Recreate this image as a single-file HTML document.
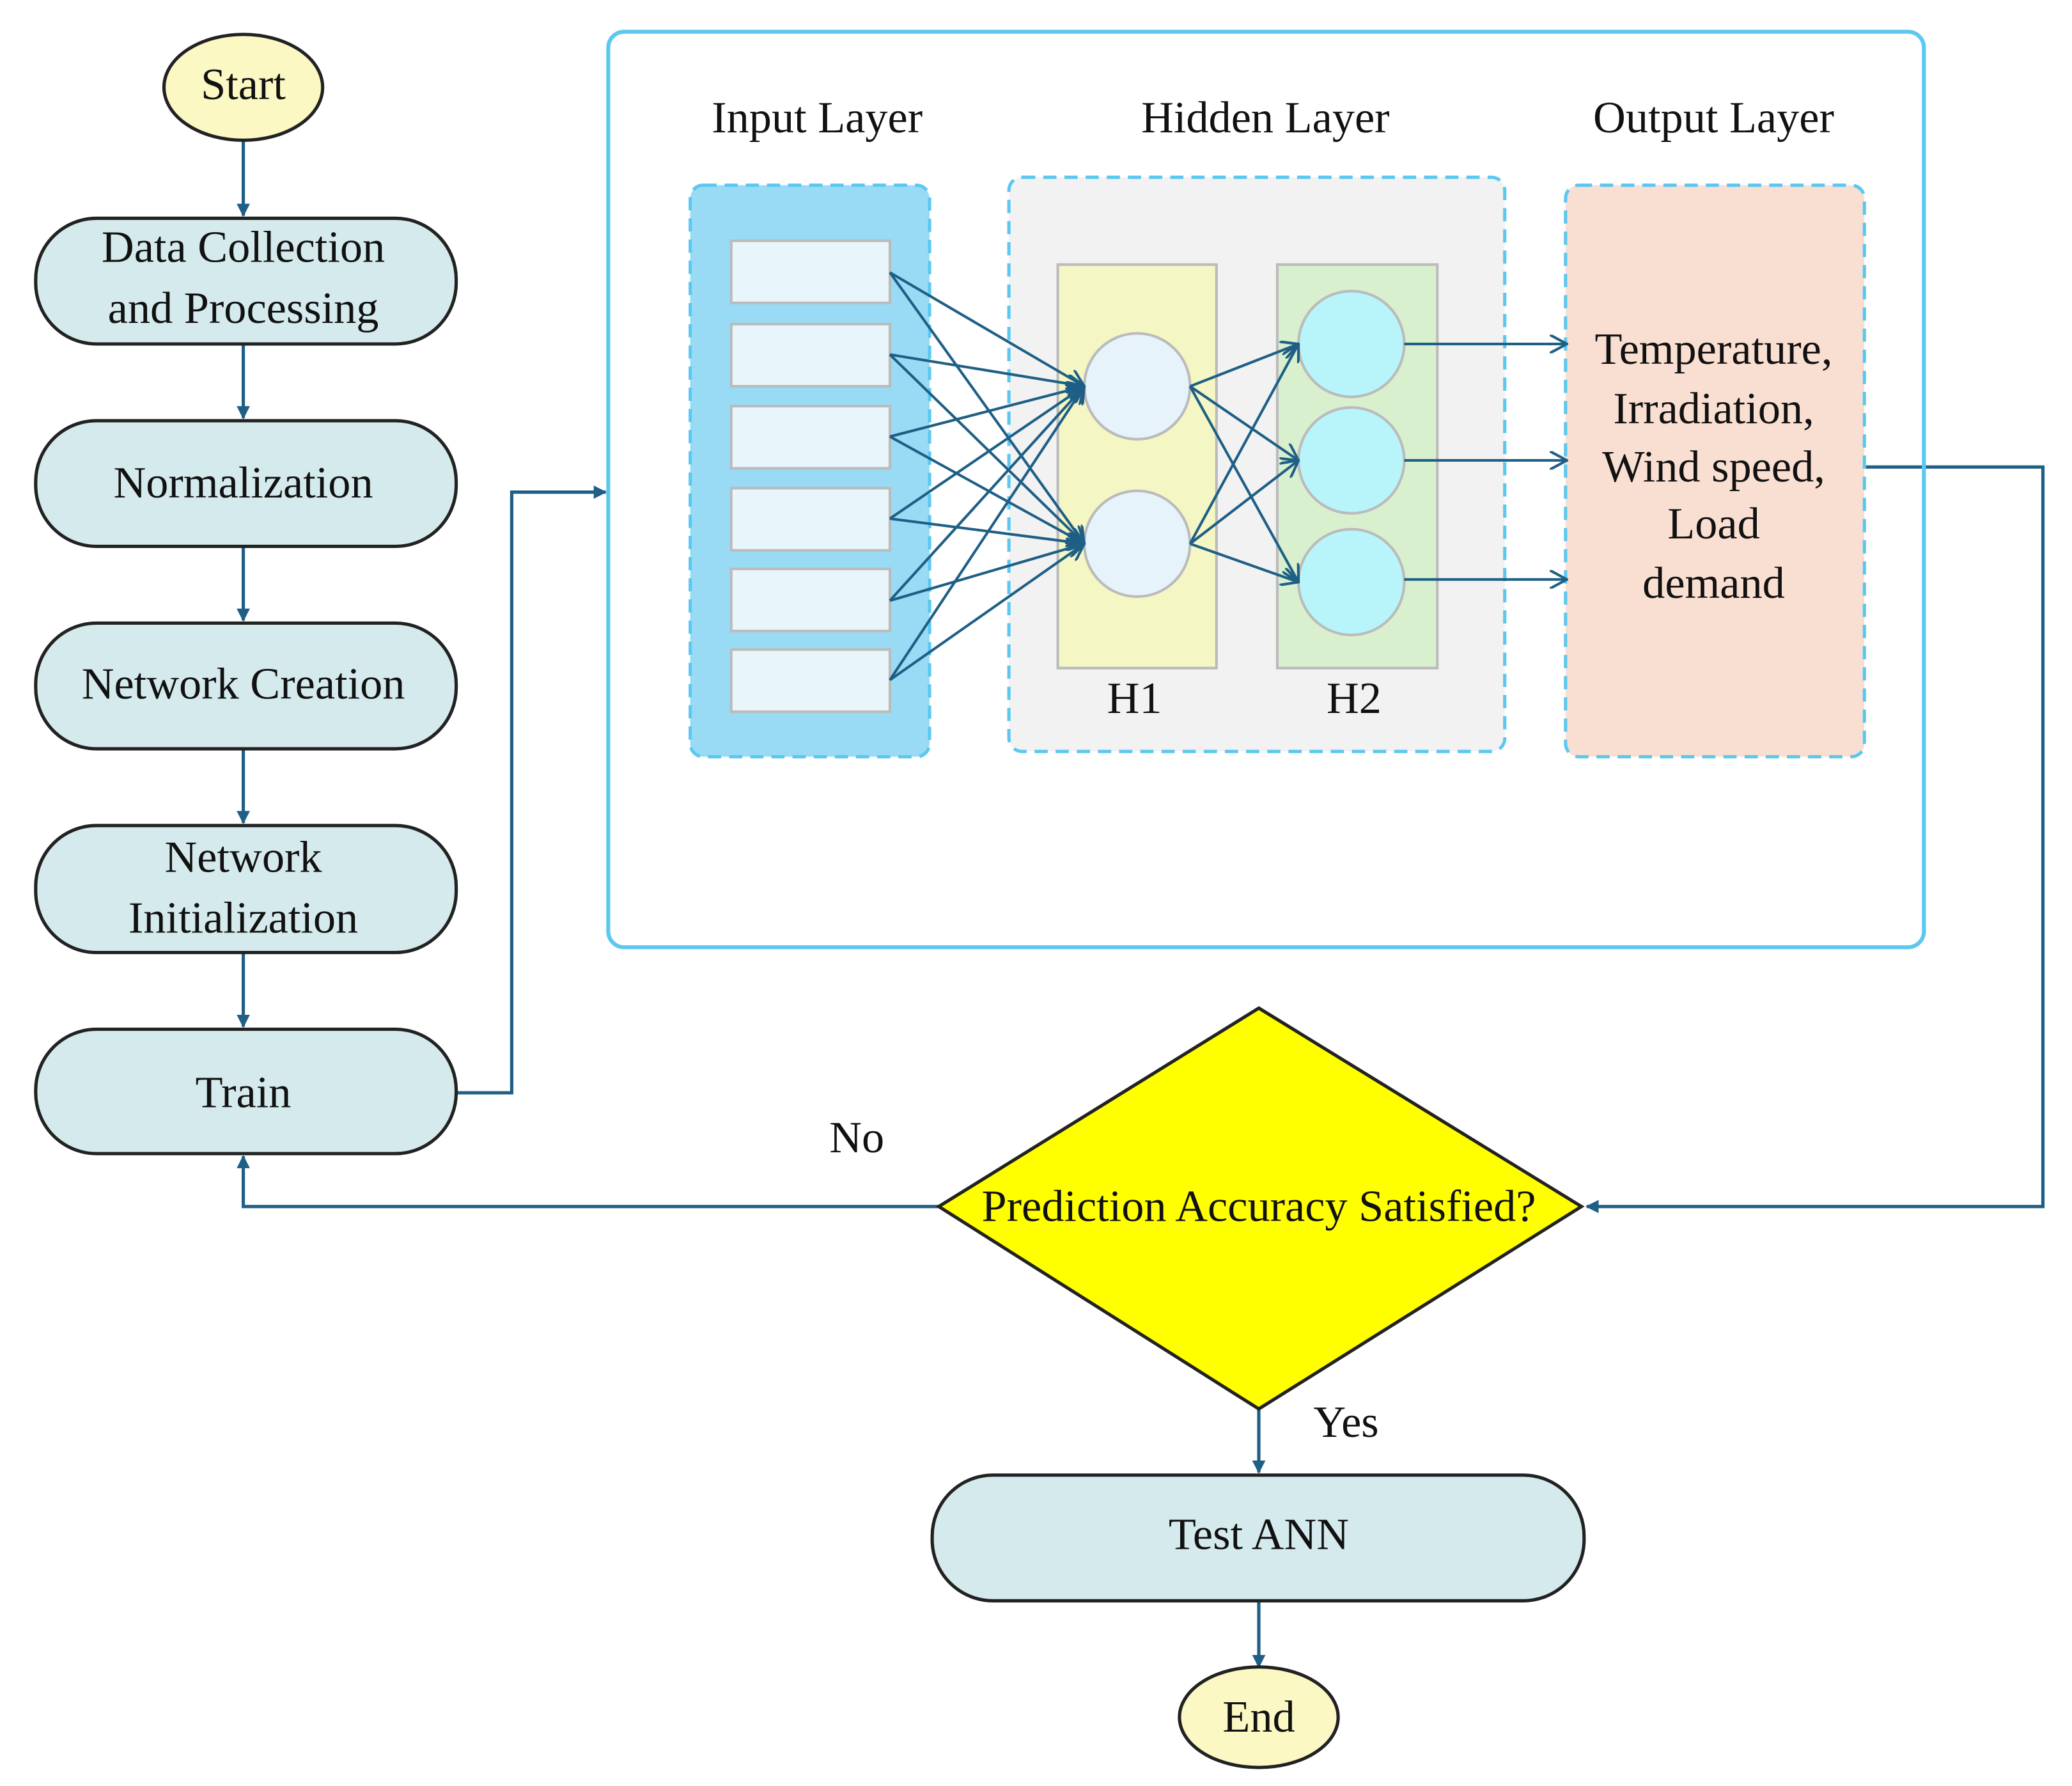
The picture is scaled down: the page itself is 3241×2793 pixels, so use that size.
<!DOCTYPE html>
<html><head><meta charset="utf-8"><style>html,body{margin:0;padding:0;background:#fff}svg{display:block}text{font-family:"Liberation Serif",serif;fill:#111}</style></head>
<body>
<svg width="3241" height="2793" viewBox="0 0 1567 1350" preserveAspectRatio="none" xmlns="http://www.w3.org/2000/svg">
<defs>
<marker id="a" markerWidth="10" markerHeight="10" refX="9" refY="5" orient="auto" markerUnits="userSpaceOnUse"><path d="M0,0 L10,5 L0,10 Z" fill="#1f5f86"/></marker>
<marker id="o" markerWidth="14" markerHeight="14" refX="13" refY="7" orient="auto" markerUnits="userSpaceOnUse"><path d="M0,0 L13,7 L0,14" fill="none" stroke="#1f5f86" stroke-width="2"/></marker>
</defs>
<g stroke="#1f5f86" stroke-width="2.5" fill="none">
<line x1="184" y1="106" x2="184" y2="163" marker-end="url(#a)"/>
<line x1="184" y1="260" x2="184" y2="316" marker-end="url(#a)"/>
<line x1="184" y1="413" x2="184" y2="469" marker-end="url(#a)"/>
<line x1="184" y1="566" x2="184" y2="622" marker-end="url(#a)"/>
<line x1="184" y1="720" x2="184" y2="776" marker-end="url(#a)"/>
<polyline points="345,826 387,826 387,372 458,372" marker-end="url(#a)"/>
<polyline points="710,912 184,912 184,874" marker-end="url(#a)"/>
<line x1="952" y1="1065" x2="952" y2="1113" marker-end="url(#a)"/>
<line x1="952" y1="1210" x2="952" y2="1260" marker-end="url(#a)"/>
<polyline points="1410,353 1545,353 1545,912 1200,912" marker-end="url(#a)"/>
</g>
<g stroke="#222" stroke-width="2.5">
<ellipse cx="184" cy="66" rx="60" ry="40" fill="#fbf8c4"/>
<rect x="27" y="165" width="318" height="95" rx="46" fill="#d5eaec"/>
<rect x="27" y="318" width="318" height="95" rx="46" fill="#d5eaec"/>
<rect x="27" y="471" width="318" height="95" rx="46" fill="#d5eaec"/>
<rect x="27" y="624" width="318" height="96" rx="46" fill="#d5eaec"/>
<rect x="27" y="778" width="318" height="94" rx="46" fill="#d5eaec"/>
<rect x="705" y="1115" width="493" height="95" rx="46" fill="#d5eaec"/>
<ellipse cx="952" cy="1298" rx="60" ry="38" fill="#fbf8c4"/>
<polygon points="952,762 1196,912 952,1065 710,912" fill="#ffff00"/>
</g>
<rect x="460" y="24" width="995" height="692" rx="12" fill="none" stroke="#5cc8f0" stroke-width="3"/>
<g stroke="#5cc8f0" stroke-width="2.5" stroke-dasharray="10,6">
<rect x="522" y="140" width="181" height="432" rx="10" fill="#99dbf5"/>
<rect x="763" y="134" width="375" height="434" rx="10" fill="#f2f2f2"/>
<rect x="1184" y="140" width="226" height="432" rx="10" fill="#f9dfd2"/>
</g>
<g stroke="#bbb" stroke-width="2" fill="#e8f6fc">
<rect x="553" y="182" width="120" height="47"/><rect x="553" y="245" width="120" height="47"/>
<rect x="553" y="307" width="120" height="47"/><rect x="553" y="369" width="120" height="47"/>
<rect x="553" y="430" width="120" height="47"/><rect x="553" y="491" width="120" height="47"/>
<rect x="800" y="200" width="120" height="305" fill="#f4f7c4"/>
<rect x="966" y="200" width="121" height="305" fill="#d9f0cf"/>
<circle cx="860" cy="292" r="40" fill="#e6f3fa"/><circle cx="860" cy="411" r="40" fill="#e6f3fa"/>
<circle cx="1022" cy="260" r="40" fill="#b7f5fb"/><circle cx="1022" cy="348" r="40" fill="#b7f5fb"/><circle cx="1022" cy="440" r="40" fill="#b7f5fb"/>
</g>
<g stroke="#1f5f86" stroke-width="2" fill="none">
<g marker-end="url(#o)">
<line x1="673" y1="206" x2="820" y2="292"/><line x1="673" y1="206" x2="820" y2="411"/>
<line x1="673" y1="268" x2="820" y2="292"/><line x1="673" y1="268" x2="820" y2="411"/>
<line x1="673" y1="330" x2="820" y2="292"/><line x1="673" y1="330" x2="820" y2="411"/>
<line x1="673" y1="392" x2="820" y2="292"/><line x1="673" y1="392" x2="820" y2="411"/>
<line x1="673" y1="454" x2="820" y2="292"/><line x1="673" y1="454" x2="820" y2="411"/>
<line x1="673" y1="514" x2="820" y2="292"/><line x1="673" y1="514" x2="820" y2="411"/>
<line x1="900" y1="292" x2="982" y2="260"/><line x1="900" y1="292" x2="982" y2="348"/><line x1="900" y1="292" x2="982" y2="440"/>
<line x1="900" y1="411" x2="982" y2="260"/><line x1="900" y1="411" x2="982" y2="348"/><line x1="900" y1="411" x2="982" y2="440"/>
<line x1="1062" y1="260" x2="1185" y2="260"/><line x1="1062" y1="348" x2="1185" y2="348"/><line x1="1062" y1="438" x2="1185" y2="438"/>
</g></g>
<g font-size="34" text-anchor="middle">
<text x="184" y="75">Start</text>
<text x="184" y="198">Data Collection</text><text x="184" y="244">and Processing</text>
<text x="184" y="376">Normalization</text>
<text x="184" y="528">Network Creation</text>
<text x="184" y="659">Network</text><text x="184" y="705">Initialization</text>
<text x="184" y="837">Train</text>
<text x="618" y="100">Input Layer</text><text x="957" y="100">Hidden Layer</text><text x="1296" y="100">Output Layer</text>
<text x="858" y="539">H1</text><text x="1024" y="539">H2</text>
<text x="1296" y="275">Temperature,</text><text x="1296" y="320">Irradiation,</text><text x="1296" y="364">Wind speed,</text><text x="1296" y="407">Load</text><text x="1296" y="452">demand</text>
<text x="952" y="923">Prediction Accuracy Satisfied?</text>
<text x="648" y="871">No</text><text x="1018" y="1086">Yes</text>
<text x="952" y="1171">Test ANN</text>
<text x="952" y="1309">End</text>
</g>
</svg>
</body></html>
